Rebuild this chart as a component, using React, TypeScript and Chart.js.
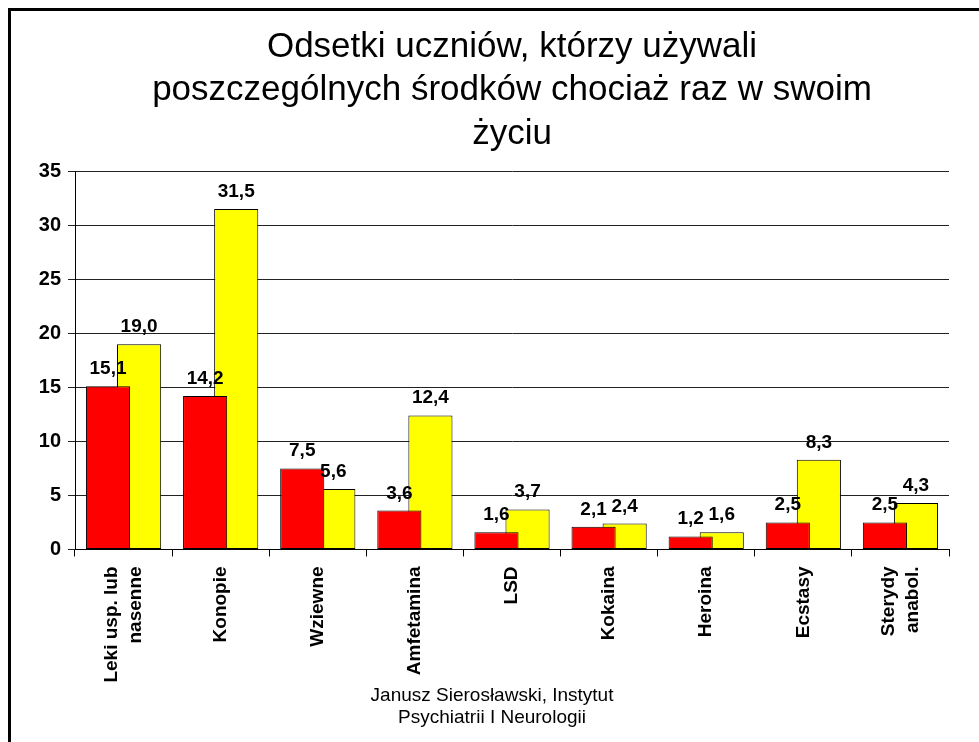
import React, { useEffect, useRef } from "react";
import { Chart, registerables } from "chart.js";

Chart.register(...registerables);

const FONT = "'Liberation Sans', Arial, Helvetica, sans-serif";

const titleLines = [
  "Odsetki uczniów, którzy używali",
  "poszczególnych środków chociaż raz w swoim",
  "życiu",
];
const footerLines = ["Janusz Sierosławski, Instytut", "Psychiatrii I Neurologii"];

const categories: string[][] = [
  ["Leki usp. lub", "nasenne"],
  ["Konopie"],
  ["Wziewne"],
  ["Amfetamina"],
  ["LSD"],
  ["Kokaina"],
  ["Heroina"],
  ["Ecstasy"],
  ["Sterydy", "anabol."],
];
const seriesRed = [15.1, 14.2, 7.5, 3.6, 1.6, 2.1, 1.2, 2.5, 2.5];
const seriesYellow = [19.0, 31.5, 5.6, 12.4, 3.7, 2.4, 1.6, 8.3, 4.3];
const yTicks = [0, 5, 10, 15, 20, 25, 30, 35];

const fmt = (v: number) => v.toFixed(1).replace(".", ",");

const valueLabels = {
  id: "valueLabels",
  afterDatasetsDraw(chart: any) {
    const ctx = chart.ctx;
    ctx.save();
    ctx.font = `bold 19px ${FONT}`;
    ctx.fillStyle = "#000";
    ctx.textAlign = "center";
    ctx.textBaseline = "alphabetic";
    chart.data.datasets.forEach((ds: any, di: number) => {
      const meta = chart.getDatasetMeta(di);
      meta.data.forEach((bar: any, i: number) => {
        ctx.fillText(fmt(ds.data[i]), bar.x, bar.y - 12);
      });
    });
    ctx.restore();
  },
};

const xLabels = {
  id: "xLabels",
  afterDraw(chart: any) {
    const ctx = chart.ctx;
    const xs = chart.scales.x;
    const lh = 24;
    ctx.save();
    ctx.font = `bold 19px ${FONT}`;
    ctx.fillStyle = "#000";
    ctx.textAlign = "right";
    ctx.textBaseline = "middle";
    categories.forEach((lines, i) => {
      const x = xs.getPixelForValue(i);
      ctx.save();
      ctx.translate(x, xs.top + 17);
      ctx.rotate(-Math.PI / 2);
      lines.forEach((line, j) => {
        ctx.fillText(line, 0, (j - (lines.length - 1) / 2) * lh);
      });
      ctx.restore();
    });
    ctx.restore();
  },
};

export default function App() {
  const ref = useRef<HTMLCanvasElement>(null);
  useEffect(() => {
    if (!ref.current) return;
    const chart = new Chart(ref.current, {
      type: "bar",
      data: {
        labels: categories.map((c) => c.join(" ")),
        datasets: [
          {
            data: seriesRed,
            backgroundColor: "#FF0000",
            borderColor: "#000",
            borderWidth: 1,
            borderSkipped: false,
            categoryPercentage: 0.64,
            barPercentage: 1.42,
          },
          {
            data: seriesYellow,
            backgroundColor: "#FFFF00",
            borderColor: "#000",
            borderWidth: 1,
            borderSkipped: false,
            categoryPercentage: 0.64,
            barPercentage: 1.42,
          },
        ],
      },
      options: {
        animation: false,
        responsive: false,
        layout: { padding: { left: 24, right: 30, top: 0, bottom: 0 } },
        plugins: {
          legend: { display: false },
          tooltip: { enabled: false },
          title: {
            display: true,
            fullSize: false,
            text: titleLines,
            color: "#000",
            font: { family: FONT, size: 35, weight: "normal", lineHeight: 1.25 },
            padding: { top: 14, bottom: 15 },
          },
          subtitle: {
            display: true,
            position: "bottom",
            text: footerLines,
            color: "#000",
            font: { family: FONT, size: 19, weight: "normal", lineHeight: 1.12 },
            padding: { top: 6, bottom: 14 },
          },
        },
        scales: {
          x: {
            ticks: { display: false },
            grid: {
              drawOnChartArea: false,
              drawTicks: true,
              tickLength: 7,
              color: "#000",
              offset: true,
            },
            border: { color: "#000", width: 1 },
            afterFit: (s: any) => {
              s.height = 130;
            },
          },
          y: {
            min: 0,
            max: 35,
            afterBuildTicks: (s: any) => {
              s.ticks = yTicks.map((v) => ({ value: v }));
            },
            afterFit: (s: any) => {
              s.width = 40;
            },
            ticks: {
              color: "#000",
              padding: 7,
              font: { family: FONT, size: 20, weight: "bold" },
            },
            grid: { color: "#222", lineWidth: 1, tickLength: 7 },
            border: { color: "#000", width: 1 },
          },
        },
      },
      plugins: [valueLabels, xLabels],
    });
    return () => chart.destroy();
  }, []);

  return (
    <div
      style={{
        position: "fixed",
        left: 8,
        top: 8,
        width: 968,
        height: 731,
        borderLeft: "3px solid #000",
        borderTop: "3px solid #000",
        background: "#fff",
      }}
    >
      <canvas ref={ref} width={968} height={731} style={{ display: "block" }} />
    </div>
  );
}
